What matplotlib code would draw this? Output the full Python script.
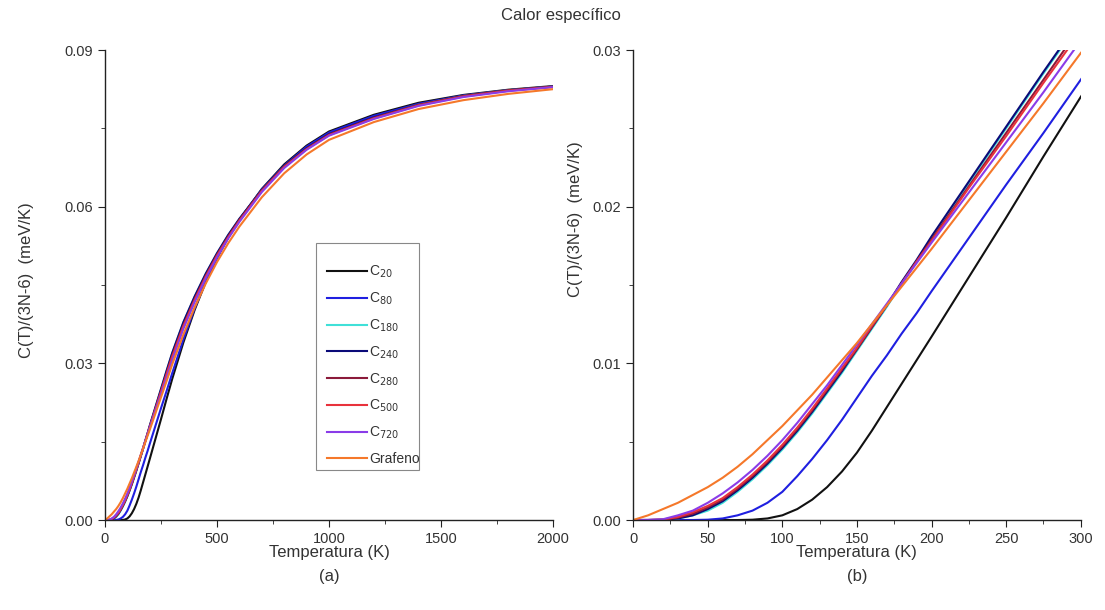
import matplotlib

matplotlib.use("Agg")
import matplotlib.pyplot as plt
from matplotlib.patches import Rectangle
from matplotlib.ticker import MultipleLocator, FormatStrFormatter

plt.rcParams["font.family"] = ["Liberation Sans", "DejaVu Sans"]

TEXT = "#333333"

# temperature grid (K)
temp = [0, 10, 20, 30, 40, 50, 60, 70, 80, 90, 100, 110, 120, 130, 140, 150,
        160, 170, 180, 190, 200, 225, 250, 275, 300, 350, 400, 450, 500, 550,
        600, 700, 800, 900, 1000, 1200, 1400, 1600, 1800, 2000]

# C(T)/(3N-6) in meV/K
c20 = [0, 0, 0, 0, 0, 0, 0, 0, 0.00002, 0.0001, 0.0003, 0.0007, 0.0013,
       0.0021, 0.0031, 0.0043, 0.0057, 0.0072, 0.0087, 0.0102, 0.0117, 0.0155,
       0.0193, 0.0232, 0.0270, 0.0340, 0.0402, 0.0456, 0.0502, 0.0541, 0.0575,
       0.0634, 0.0681, 0.0717, 0.0744, 0.0776, 0.0799, 0.0814, 0.0824, 0.0831]
c80 = [0, 0, 0, 0, 0, 0.00002, 0.0001, 0.0003, 0.0006, 0.0011, 0.0018, 0.0028,
       0.0039, 0.0051, 0.0064, 0.0078, 0.0092, 0.0105, 0.0119, 0.0132, 0.0146,
       0.0180, 0.0214, 0.0247, 0.0281, 0.0346, 0.0405, 0.0457, 0.0502, 0.0541,
       0.0575, 0.0633, 0.0679, 0.0715, 0.0742, 0.0774, 0.0797, 0.0813, 0.0823,
       0.0830]
c180 = [0, 0, 0.00001, 0.0001, 0.0003, 0.0006, 0.0011, 0.0018, 0.0026, 0.0035,
        0.0045, 0.0056, 0.0068, 0.0081, 0.0094, 0.0108, 0.0122, 0.0136, 0.0151,
        0.0165, 0.0180, 0.0215, 0.0250, 0.0285, 0.0319, 0.0378, 0.0427, 0.0471,
        0.0510, 0.0545, 0.0576, 0.0631, 0.0677, 0.0711, 0.0738, 0.0770, 0.0795,
        0.0812, 0.0823, 0.0830]
c240 = [0, 0, 0.00001, 0.0001, 0.0003, 0.0007, 0.0012, 0.0019, 0.0027, 0.0036,
        0.0046, 0.0057, 0.0069, 0.0082, 0.0095, 0.0109, 0.0123, 0.0137, 0.0152,
        0.0166, 0.0181, 0.0216, 0.0251, 0.0286, 0.0320, 0.0379, 0.0428, 0.0472,
        0.0511, 0.0546, 0.0577, 0.0632, 0.0678, 0.0712, 0.0739, 0.0771, 0.0795,
        0.0812, 0.0823, 0.0830]
c280 = [0, 0, 0.00002, 0.00015, 0.0004, 0.0008, 0.0013, 0.0020, 0.0028, 0.0037,
        0.0047, 0.0058, 0.0070, 0.0083, 0.0096, 0.0109, 0.0123, 0.0137, 0.0151,
        0.0165, 0.0179, 0.0213, 0.0247, 0.0281, 0.0315, 0.0373, 0.0423, 0.0468,
        0.0508, 0.0543, 0.0575, 0.0631, 0.0677, 0.0711, 0.0738, 0.0770, 0.0795,
        0.0812, 0.0823, 0.0830]
c500 = [0, 0, 0.00003, 0.0002, 0.0005, 0.0009, 0.0014, 0.0021, 0.0029, 0.0038,
        0.0048, 0.0059, 0.0071, 0.0084, 0.0097, 0.0110, 0.0124, 0.0137, 0.0151,
        0.0165, 0.0178, 0.0212, 0.0245, 0.0279, 0.0312, 0.0371, 0.0421, 0.0466,
        0.0506, 0.0541, 0.0573, 0.0630, 0.0676, 0.0710, 0.0737, 0.0769, 0.0794,
        0.0811, 0.0822, 0.0829]
c720 = [0, 0.00001, 0.00005, 0.0003, 0.0006, 0.0011, 0.0017, 0.0024, 0.0032,
        0.0041, 0.0051, 0.0062, 0.0074, 0.0086, 0.0099, 0.0112, 0.0125, 0.0138,
        0.0151, 0.0164, 0.0177, 0.0209, 0.0241, 0.0273, 0.0306, 0.0366, 0.0417,
        0.0463, 0.0503, 0.0539, 0.0571, 0.0628, 0.0674, 0.0709, 0.0736, 0.0768,
        0.0793, 0.0810, 0.0821, 0.0829]
grafeno = [0, 0.0003, 0.0007, 0.0011, 0.0016, 0.0021, 0.0027, 0.0034, 0.0042,
           0.0051, 0.0060, 0.0070, 0.0080, 0.0091, 0.0102, 0.0113, 0.0125,
           0.0137, 0.0149, 0.0161, 0.0173, 0.0204, 0.0235, 0.0266, 0.0298,
           0.0355, 0.0407, 0.0453, 0.0494, 0.0530, 0.0562, 0.0618, 0.0664,
           0.0700, 0.0728, 0.0762, 0.0787, 0.0804, 0.0816, 0.0825]

series = [
    (r"C$_{20}$", c20, "#111111"),
    (r"C$_{80}$", c80, "#1f1fe0"),
    (r"C$_{180}$", c180, "#40e0d8"),
    (r"C$_{240}$", c240, "#0a0a78"),
    (r"C$_{280}$", c280, "#8b1a3a"),
    (r"C$_{500}$", c500, "#e8323c"),
    (r"C$_{720}$", c720, "#8a3ce8"),
    ("Grafeno", grafeno, "#f5782a"),
]

fig = plt.figure(figsize=(11.05, 6.10), dpi=100)
ax1 = fig.add_axes([0.095, 0.1475, 0.4055, 0.7705])
ax2 = fig.add_axes([0.573, 0.1475, 0.405, 0.7705])

for ax in (ax1, ax2):
    for name, vals, col in series:
        ax.plot(temp, vals, color=col, lw=1.5, label=name)
    ax.spines["top"].set_visible(False)
    ax.spines["right"].set_visible(False)
    for s in ("left", "bottom"):
        ax.spines[s].set_color("#222222")
        ax.spines[s].set_linewidth(1.0)
    ax.tick_params(which="both", direction="out", colors="#222222",
                   labelcolor=TEXT, labelsize=10.5)
    ax.tick_params(which="major", length=5)
    ax.tick_params(which="minor", length=3)
    ax.yaxis.set_major_formatter(FormatStrFormatter("%.2f"))
    ax.text(0.5, -0.07, "Temperatura (K)", transform=ax.transAxes,
            ha="center", va="center", fontsize=12, color=TEXT)

ax1.set_xlim(0, 2000)
ax1.set_ylim(0, 0.09)
ax1.xaxis.set_major_locator(MultipleLocator(500))
ax1.xaxis.set_minor_locator(MultipleLocator(250))
ax1.yaxis.set_major_locator(MultipleLocator(0.03))
ax1.yaxis.set_minor_locator(MultipleLocator(0.015))
ax1.text(0.5, -0.121, "(a)", transform=ax1.transAxes, ha="center",
         va="center", fontsize=12, color=TEXT)
ax1.text(-0.176, 0.51, "C(T)/(3N-6)  (meV/K)", transform=ax1.transAxes,
         rotation=90, ha="center", va="center", fontsize=12, color=TEXT)

ax2.set_xlim(0, 300)
ax2.set_ylim(0, 0.03)
ax2.xaxis.set_major_locator(MultipleLocator(50))
ax2.xaxis.set_minor_locator(MultipleLocator(25))
ax2.yaxis.set_major_locator(MultipleLocator(0.01))
ax2.yaxis.set_minor_locator(MultipleLocator(0.005))
ax2.text(0.5, -0.121, "(b)", transform=ax2.transAxes, ha="center",
         va="center", fontsize=12, color=TEXT)
ax2.text(-0.129, 0.64, "C(T)/(3N-6)  (meV/K)", transform=ax2.transAxes,
         rotation=90, ha="center", va="center", fontsize=12, color=TEXT)

# legend box drawn separately so the frame hugs the text like the original
ax1.add_patch(Rectangle((0.471, 0.106), 0.23, 0.483, transform=ax1.transAxes,
                        facecolor="white", edgecolor="#888888", lw=0.8,
                        zorder=4))
leg = ax1.legend(loc="upper left", bbox_to_anchor=(0.4955, 0.545),
                 borderaxespad=0, borderpad=0, fontsize=10,
                 handlelength=2.9, handletextpad=0.15, labelspacing=0.75,
                 frameon=False)
leg.set_zorder(5)
for t in leg.get_texts():
    t.set_color(TEXT)

fig.text(0.508, 0.974, "Calor específico", ha="center", va="center",
         fontsize=12, color=TEXT)

fig.savefig("out.png", dpi=100)
